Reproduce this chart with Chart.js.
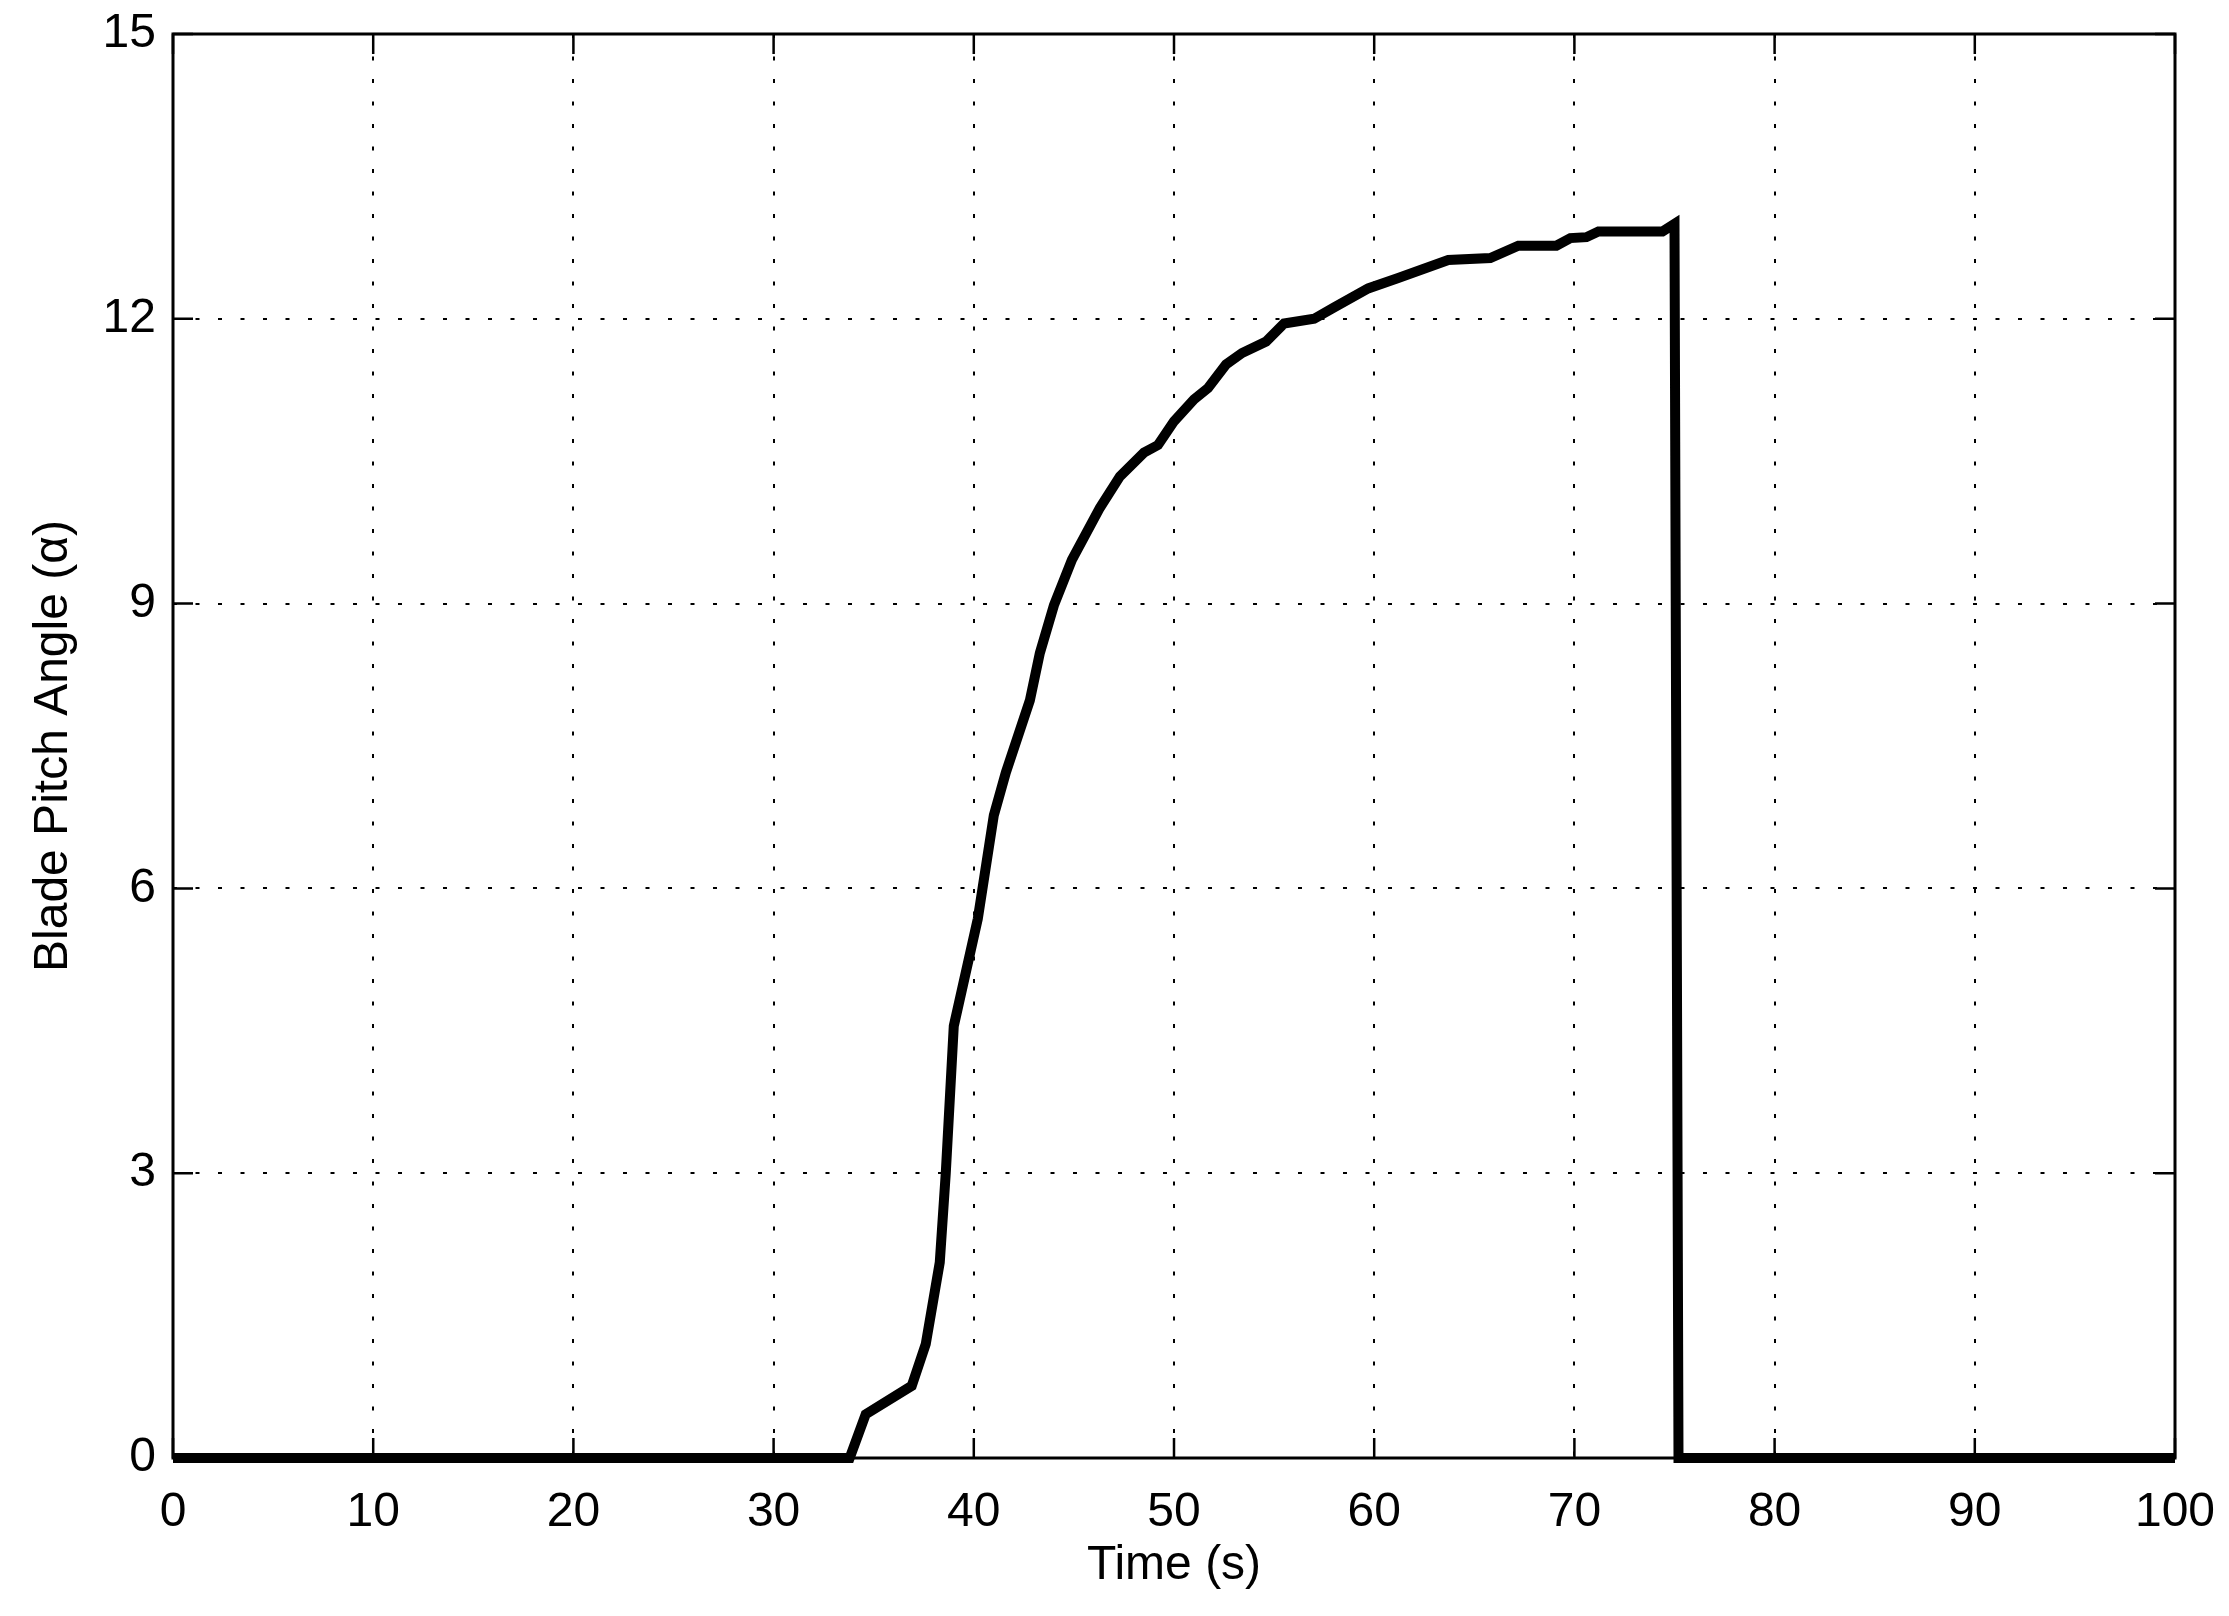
<!DOCTYPE html>
<html>
<head>
<meta charset="utf-8">
<script src="https://cdn.jsdelivr.net/npm/chart.js@4/dist/chart.umd.min.js"></script>
<style>
  html, body { margin: 0; padding: 0; background: #fff; }
  canvas { display: block; }
</style>
</head>
<body>
<canvas id="canvas" width="2229" height="1616"></canvas>
<script>
// ---------- data ----------
let timeS = [0, 33.8, 34.6, 36.9, 37.6, 38.3, 38.6, 39.0, 40.2, 41.0, 41.6, 42.8, 43.3, 44.0,
  44.9, 46.3, 47.3, 48.5, 49.2, 50.0, 51.0, 51.7, 52.6, 53.4, 54.6, 55.5, 57.0, 58.0,
  59.7, 61.2, 63.7, 65.8, 67.2, 69.1, 69.8, 70.6, 71.2, 74.4, 75.0, 75.2, 100]
let pitchAngle = [0, 0, 0.46, 0.76, 1.2, 2.06, 3.0, 4.55, 5.68, 6.77, 7.22, 7.98, 8.48, 8.98,
  9.46, 10.01, 10.34, 10.59, 10.67, 10.92, 11.15, 11.27, 11.52, 11.64, 11.76, 11.95, 12.0, 12.12,
  12.32, 12.43, 12.62, 12.64, 12.77, 12.77, 12.85, 12.86, 12.92, 12.92, 13.0, 0, 0]
let xTicks = [0, 10, 20, 30, 40, 50, 60, 70, 80, 90, 100]
let yTicks = [0, 3, 6, 9, 12, 15]

let points = timeS.map((t, i) => ({x: t, y: pitchAngle[i]}))

const FONT = '"Liberation Sans", Arial, Helvetica, sans-serif'

// frame round the plot + matlab style inward ticks on all four sides
let framePlugin = {
  id: 'frame',
  afterDraw(chart) {
    let ctx = chart.ctx
    let a = chart.chartArea
    let xs = chart.scales.x
    let ys = chart.scales.y
    let len = 20
    ctx.save()
    ctx.strokeStyle = '#000'
    ctx.lineWidth = 2.5
    xTicks.forEach(v => {
      let px = xs.getPixelForValue(v)
      ctx.beginPath()
      ctx.moveTo(px, a.bottom); ctx.lineTo(px, a.bottom - len)
      ctx.moveTo(px, a.top); ctx.lineTo(px, a.top + len)
      ctx.stroke()
    })
    yTicks.forEach(v => {
      let py = ys.getPixelForValue(v)
      ctx.beginPath()
      ctx.moveTo(a.left, py); ctx.lineTo(a.left + len, py)
      ctx.moveTo(a.right, py); ctx.lineTo(a.right - len, py)
      ctx.stroke()
    })
    ctx.lineWidth = 3
    ctx.strokeRect(a.left, a.top, a.right - a.left, a.bottom - a.top)
    ctx.restore()
  }
}

let config = {
  type: 'scatter',
  data: {
    datasets: [{
      data: points,
      showLine: true,
      borderColor: '#000',
      backgroundColor: '#000',
      borderWidth: 10,
      pointRadius: 0,
      tension: 0,
      clip: false
    }]
  },
  options: {
    responsive: false,
    animation: false,
    devicePixelRatio: 1,
    layout: { padding: { top: 34, right: 54, left: 0, bottom: 0 } },
    plugins: { legend: { display: false }, tooltip: { enabled: false } },
    scales: {
      x: {
        type: 'linear',
        min: 0, max: 100,
        afterBuildTicks: s => { s.ticks = xTicks.map(v => ({value: v})) },
        afterFit: s => { s.height = 158; s.paddingLeft = 0; s.paddingRight = 0 },
        grid: { color: '#000', lineWidth: 2, drawTicks: false },
        border: { display: false, dash: [4, 18.5] },
        ticks: { color: '#000', padding: 26, font: { family: FONT, size: 48 } },
        title: { display: true, text: 'Time (s)', color: '#000', padding: { top: 0, bottom: 21 },
          font: { family: FONT, size: 48 } }
      },
      y: {
        type: 'linear',
        min: 0, max: 15,
        afterBuildTicks: s => { s.ticks = yTicks.map(v => ({value: v})) },
        afterFit: s => { s.width = 173; s.paddingTop = 0; s.paddingBottom = 0 },
        grid: { color: '#000', lineWidth: 2, drawTicks: false },
        border: { display: false, dash: [4, 18.5] },
        ticks: { color: '#000', padding: 17, font: { family: FONT, size: 48 } },
        title: { display: true, text: 'Blade Pitch Angle (α)', color: '#000', padding: { top: 25, bottom: 0 },
          font: { family: FONT, size: 48 } }
      }
    }
  },
  plugins: [framePlugin]
}

let myChart = new Chart(document.getElementById('canvas').getContext('2d'), config)
</script>
</body>
</html>
